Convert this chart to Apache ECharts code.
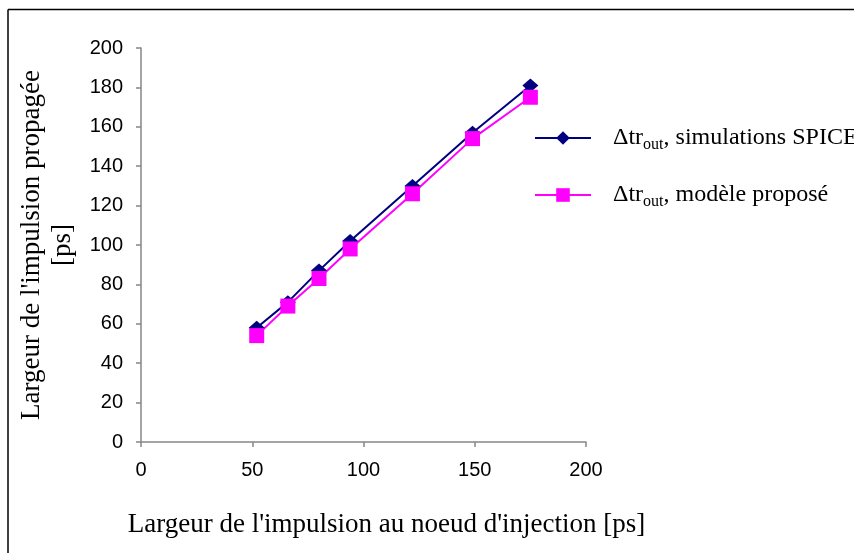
<!DOCTYPE html>
<html>
<head>
<meta charset="utf-8">
<script src="https://cdn.jsdelivr.net/npm/echarts@6/dist/echarts.min.js"></script>
<style>
html,body{margin:0;padding:0;background:#fff;}
#c{width:854px;height:553px;}
</style>
</head>
<body>
<div id="c"></div>
<script>
var xValues = [52, 66, 80, 94, 122, 149, 175];
var spiceValues = [58, 71, 87, 102, 130, 157, 181];
var modelValues = [54, 69, 83, 98, 126, 154, 175];
var xTicks = [0, 50, 100, 150, 200];
var yTicks = [0, 20, 40, 60, 80, 100, 120, 140, 160, 180, 200];
var seriesNames = ['spice', 'model'];
var xTitle = "Largeur de l'impulsion au noeud d'injection [ps]";
var yTitle = "Largeur de l'impulsion propagée\n[ps]";

function pairs(xs, ys) { return xs.map(function (x, i) { return [x, ys[i]]; }); }

var serif = "'Liberation Serif', 'Times New Roman', serif";
var sans = "'Liberation Sans', Arial, sans-serif";

var chart = echarts.init(document.getElementById('c'));
chart.setOption({
  animation: false,
  backgroundColor: '#fff',
  grid: { left: 141, right: 268, top: 48, bottom: 111 },
  graphic: [
    { type: 'line', shape: { x1: 8, y1: 9.5, x2: 854, y2: 9.5 }, style: { stroke: '#000', lineWidth: 1.5 } },
    { type: 'line', shape: { x1: 8, y1: 9.5, x2: 8, y2: 553 }, style: { stroke: '#000', lineWidth: 1.5 } }
  ],
  legend: {
    orient: 'vertical',
    left: 534,
    top: 126,
    padding: 0,
    itemWidth: 56,
    itemHeight: 17,
    itemGap: 30,
    data: seriesNames,
    formatter: function (n) {
      return n === 'spice'
        ? '{a|Δtr}{b|out}{a|, simulations SPICE}'
        : '{a|Δtr}{b|out}{a|, modèle proposé}';
    },
    textStyle: {
      padding: [0, 0, 0, 17],
      rich: {
        a: { fontFamily: serif, fontSize: 24, color: '#000', lineHeight: 30, verticalAlign: 'middle' },
        b: { fontFamily: serif, fontSize: 16, color: '#000', lineHeight: 14, verticalAlign: 'bottom' }
      }
    }
  },
  xAxis: {
    type: 'value', min: xTicks[0], max: xTicks[xTicks.length - 1], interval: 50,
    name: xTitle, nameLocation: 'middle', nameGap: 69,
    nameTextStyle: { fontFamily: serif, fontSize: 27, color: '#000', padding: [0, 0, 0, 46] },
    axisLine: { show: true, onZero: false, lineStyle: { color: '#868686', width: 1.5 } },
    axisTick: { show: true, length: 5, lineStyle: { color: '#868686', width: 1.5 } },
    axisLabel: { margin: 18, fontFamily: sans, fontSize: 20, color: '#000' },
    splitLine: { show: false }
  },
  yAxis: {
    type: 'value', min: yTicks[0], max: yTicks[yTicks.length - 1], interval: 20,
    name: yTitle, nameLocation: 'middle', nameGap: 58.5, nameRotate: 90,
    nameTextStyle: { fontFamily: serif, fontSize: 27, color: '#000', lineHeight: 31 },
    axisLine: { show: true, onZero: false, lineStyle: { color: '#868686', width: 1.5 } },
    axisTick: { show: true, length: 5, lineStyle: { color: '#868686', width: 1.5 } },
    axisLabel: { margin: 18, fontFamily: sans, fontSize: 20, color: '#000' },
    splitLine: { show: false }
  },
  series: [
    {
      name: 'spice', type: 'line', data: pairs(xValues, spiceValues),
      symbol: 'diamond', symbolSize: [16, 14],
      lineStyle: { color: '#000080', width: 2 },
      itemStyle: { color: '#000080' }
    },
    {
      name: 'model', type: 'line', data: pairs(xValues, modelValues),
      symbol: 'rect', symbolSize: 15,
      lineStyle: { color: '#FF00FF', width: 2 },
      itemStyle: { color: '#FF00FF' }
    }
  ]
});
</script>
</body>
</html>
